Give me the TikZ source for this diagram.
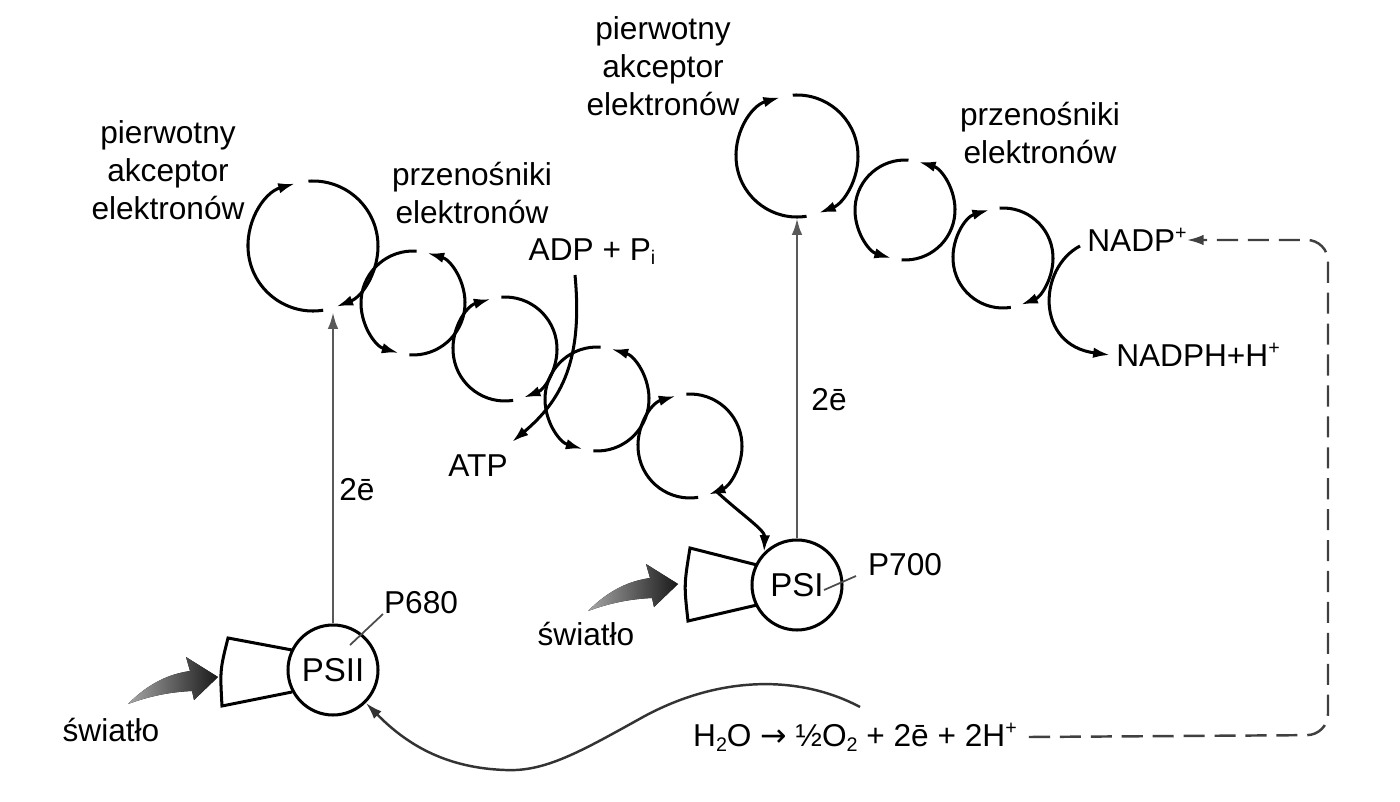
\documentclass[tikz,border=0pt]{standalone}
\usepackage{fontspec}
\setmainfont{Liberation Sans}
\newfontfamily\djv{DejaVu Sans}
\usetikzlibrary{calc,arrows.meta}
\newcommand\mysub[1]{\raisebox{-0.25ex}{\fontsize{28}{30}\selectfont #1}}
\newcommand\mysup[1]{\raisebox{0.75ex}{\fontsize{28}{30}\selectfont #1}}
\newcommand\cwc[2]{%
  \draw[arr] ($(#1)+(-81:#2)$) arc[start angle=-81,end angle=-254,radius=#2];
  \draw[arr] ($(#1)+(94:#2)$) arc[start angle=94,end angle=-69,radius=#2];}
\newcommand\ccwc[2]{%
  \draw[arr] ($(#1)+(-94:#2)$) arc[start angle=-94,end angle=74,radius=#2];
  \draw[arr] ($(#1)+(86:#2)$) arc[start angle=86,end angle=254,radius=#2];}
\tikzset{
  txt/.style={font=\fontsize{45}{54}\selectfont, align=center, inner sep=0pt},
  tip/.style={-{Latex[length=24pt,width=15pt]}},
  arr/.style={line width=4.3pt, tip},
  ps/.style={circle, draw, line width=4.3pt, minimum size=90*0.05cm, inner sep=0pt, font=\fontsize{47}{54}\selectfont},
  up/.style={draw=black!65, line width=4pt, tip},
  funnel/.style={draw, line width=4.3pt, fill=white},
  light/.style={left color=black!35, right color=black!90, draw=none},
}
\begin{document}
\begin{tikzpicture}[x=0.05cm,y=0.05cm]
\useasboundingbox (0,0) rectangle (1400,-802);
% funnels
\draw[funnel] (292,-650) -- (228,-638) .. controls (220,-670) .. (222,-706) -- (292,-692);
\draw[funnel] (757,-565) -- (690,-548) .. controls (684,-585) .. (688,-621) -- (757,-605);
% photosystems
\node[ps] (psii) at (333,-670) {PSII};
\node[ps] (psi) at (797,-585) {PSI};
% centers
\coordinate (a1) at (313,-246);
\coordinate (c1) at (413,-303);
\coordinate (c2) at (505,-349);
\coordinate (c3) at (597,-399);
\coordinate (c4) at (690,-446);
\coordinate (a2) at (797,-156);
\coordinate (d1) at (905,-210);
\coordinate (d2) at (1003,-258);
\cwc{a1}{65}
\ccwc{c1}{52}
\cwc{c2}{52}
\ccwc{c3}{52}
\cwc{c4}{52}
\cwc{a2}{61}
\ccwc{d1}{50}
\cwc{d2}{50}
% vertical electron arrows
\draw[up] (psii.north) -- ($(a1)+(20,-66)$);
\draw[up] (psi.north) -- ($(a2)+(0,-62)$);
% last carrier to PSI
\draw[arr] ($(c4)+(-60:52)$) .. controls (742,-515) and (765,-530) .. (psi.north west);
% ATP
\coordinate (adp) at (575,-275);
\coordinate (atp) at (512,-442);
\draw[arr] (adp) .. controls (583,-360) and (562,-400) .. (atp);
% NADP
\coordinate (nin) at (1080,-246);
\coordinate (nout) at (1110,-355);
\draw[arr] (nin) .. controls (1038,-268) and (1035,-345) .. (nout);
% labels
\node[txt] at (168,-170) {pierwotny\\akceptor\\elektronów};
\node[txt] at (663,-66) {pierwotny\\akceptor\\elektronów};
\node[txt] at (472,-193) {przenośniki\\elektronów};
\node[txt] at (1040,-133) {przenośniki\\elektronów};
\node[txt] (adpl) at (592,-252) {ADP + P\mysub{i}};
\node[txt] (atpl) at (478,-466) {ATP};
\node[txt] at (357,-490) {2ē};
\node[txt] at (829,-400) {2ē};
\node[txt] (p680) at (421,-603) {P680};
\node[txt] (p700) at (905,-565) {P700};
\draw[line width=2.5pt, black!70] (350,-645) -- (383,-614);
\draw[line width=2.5pt, black!70] (824,-590) -- (856,-576);
\node[txt] at (111,-730) {światło};
\node[txt] at (586,-634) {światło};
\node[txt] (nadp) at (1137,-240) {NADP\mysup{+}};
\node[txt] (nadph) at (1198,-355) {NADPH+H\mysup{+}};
\node[txt] (h2o) at (855,-737) {H\mysub{2}O {\djv →} ½O\mysub{2} + 2ē + 2H\mysup{+}};
% light arrows
\fill[light] (128,-704) .. controls (150,-682) and (170,-674) .. (190,-671) -- (186,-657) -- (218,-677) -- (194,-700) -- (192,-691) .. controls (170,-692) and (150,-696) .. (128,-704) -- cycle;
\begin{scope}[shift={(460,93)}]
\fill[light] (128,-704) .. controls (150,-682) and (170,-674) .. (190,-671) -- (186,-657) -- (218,-677) -- (194,-700) -- (192,-691) .. controls (170,-692) and (150,-696) .. (128,-704) -- cycle;
\end{scope}
% water to PSII
\draw[line width=3.5pt, black!80, tip] (860,-707) .. controls (800,-675) and (720,-675) .. (643,-717) .. controls (580,-752) and (545,-772) .. (505,-770) .. controls (450,-768) and (410,-748) .. (psii.south east);
% dashed NADP return
\draw[line width=3.5pt, black!75, dash pattern=on 30pt off 14pt, rounded corners=30, tip] (h2o.east) ++(12,0) -- (1328,-735) -- (1328,-240) -- (nadp.east);
\end{tikzpicture}
\end{document}
